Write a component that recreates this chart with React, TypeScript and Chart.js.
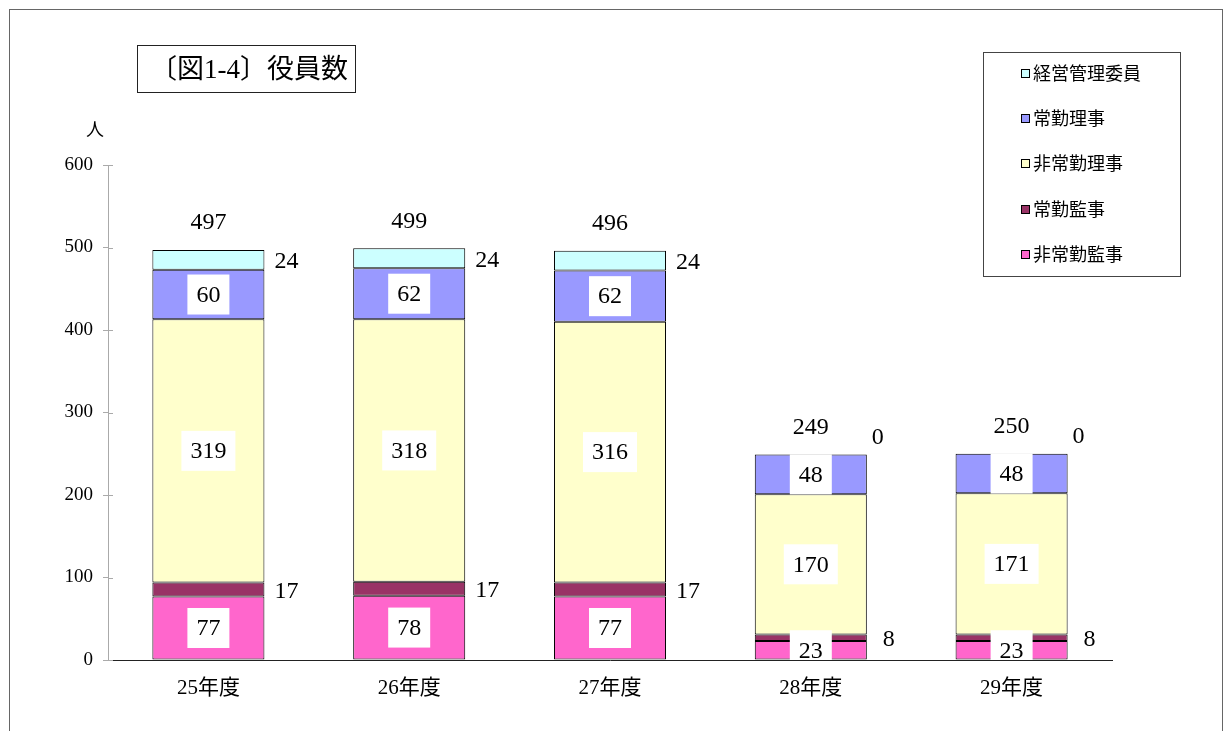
import React, { useEffect, useRef } from "react";
import { Chart, registerables } from "chart.js";
Chart.register(...registerables);

const categories = ["25年度", "26年度", "27年度", "28年度", "29年度"];
const seriesNames = ["非常勤監事", "常勤監事", "非常勤理事", "常勤理事", "経営管理委員"];
const hijoukinKanji = [77, 78, 77, 23, 23];
const joukinKanji = [17, 17, 17, 8, 8];
const hijoukinRiji = [319, 318, 316, 170, 171];
const joukinRiji = [60, 62, 62, 48, 48];
const keieiKanri = [24, 24, 24, 0, 0];
const totals = [497, 499, 496, 249, 250];
const yTicks = [0, 100, 200, 300, 400, 500, 600];
const seriesColors = ["#FF66CC", "#993366", "#FFFFCC", "#9999FF", "#CCFFFF"];
const titleText = "〔図1-4〕役員数";
const unitText = "人";

const SERIF = '"Liberation Serif", "Noto Sans CJK JP", serif';
const insideSeries = [0, 2, 3];

const decorPlugin = {
  id: "decor",
  beforeDraw(chart: any) {
    const ctx = chart.ctx;
    ctx.save();
    ctx.fillStyle = "#fff";
    ctx.fillRect(0, 0, chart.width, chart.height);
    ctx.strokeStyle = "#666";
    ctx.lineWidth = 1;
    ctx.strokeRect(9.5, 9.5, 1213, 900);
    ctx.restore();
  },
  afterDraw(chart: any) {
    const ctx = chart.ctx;
    const yScale = chart.scales.y;
    const area = chart.chartArea;
    ctx.save();
    ctx.strokeStyle = "#aaa";
    ctx.lineWidth = 1;
    yTicks.forEach((t) => {
      const py = Math.round(yScale.getPixelForValue(t)) + 0.5;
      ctx.beginPath();
      ctx.moveTo(area.left, py);
      ctx.lineTo(area.left + 5, py);
      ctx.stroke();
    });
    ctx.strokeStyle = "#222";
    ctx.strokeRect(137.5, 45.5, 218, 47);
    ctx.fillStyle = "#000";
    ctx.font = `27px ${SERIF}`;
    ctx.textBaseline = "middle";
    ctx.textAlign = "left";
    ctx.fillText(titleText, 150, 71);
    ctx.font = `18px ${SERIF}`;
    ctx.textAlign = "center";
    ctx.fillText(unitText, 95, 131);
    ctx.strokeStyle = "#444";
    ctx.strokeRect(983.5, 52.5, 197, 224);
    const ys = [74, 119, 164, 210, 255];
    ctx.font = `18px ${SERIF}`;
    ctx.textAlign = "left";
    for (let k = 0; k < 5; k++) {
      const si = 4 - k;
      ctx.fillStyle = seriesColors[si];
      ctx.fillRect(1021.5, ys[k] - 4.5, 8, 8);
      ctx.strokeStyle = "#000";
      ctx.strokeRect(1021.5, ys[k] - 4.5, 8, 8);
      ctx.fillStyle = "#000";
      ctx.fillText(seriesNames[si], 1033, ys[k] + 1);
    }
    ctx.restore();
  },
  afterDatasetsDraw(chart: any) {
    const ctx = chart.ctx;
    const area = chart.chartArea;
    const yScale = chart.scales.y;
    ctx.save();
    ctx.font = `24px ${SERIF}`;
    ctx.textBaseline = "middle";
    chart.data.datasets.forEach((ds: any, di: number) => {
      const meta = chart.getDatasetMeta(di);
      meta.data.forEach((bar: any, i: number) => {
        const v = ds.data[i];
        const p = bar.getProps(["x", "y", "base", "width"], true);
        const cy = (p.y + p.base) / 2;
        const t = String(v);
        if (insideSeries.includes(di)) {
          const tw = ctx.measureText(t).width;
          ctx.save();
          ctx.beginPath();
          ctx.rect(area.left, area.top, area.right - area.left, area.bottom - area.top);
          ctx.clip();
          ctx.fillStyle = "#fff";
          ctx.fillRect(p.x - tw / 2 - 9, cy - 20, tw + 18, 40);
          ctx.fillStyle = "#000";
          ctx.textAlign = "center";
          ctx.fillText(t, p.x, cy + 1);
          ctx.restore();
        } else if (v === 0) {
          ctx.fillStyle = "#000";
          ctx.textAlign = "center";
          ctx.fillText(t, p.x + p.width / 2 + 11, p.y - 17);
        } else {
          ctx.fillStyle = "#000";
          ctx.textAlign = "center";
          ctx.fillText(t, p.x + p.width / 2 + 22, cy + 2);
        }
      });
    });
    const meta0 = chart.getDatasetMeta(0);
    ctx.fillStyle = "#000";
    ctx.textAlign = "center";
    totals.forEach((tot, i) => {
      const bx = meta0.data[i].x;
      ctx.fillText(String(tot), bx, yScale.getPixelForValue(tot) - 27);
    });
    ctx.restore();
  },
};

export default function App() {
  const ref = useRef<HTMLCanvasElement | null>(null);
  useEffect(() => {
    if (!ref.current) return;
    const seriesData = [hijoukinKanji, joukinKanji, hijoukinRiji, joukinRiji, keieiKanri];
    const chart = new Chart(ref.current, {
      type: "bar",
      data: {
        labels: categories,
        datasets: seriesData.map((d, i) => ({
          label: seriesNames[i],
          data: d,
          backgroundColor: seriesColors[i],
          borderColor: "#000",
          borderWidth: 1,
          borderSkipped: false,
          barPercentage: 0.558,
          categoryPercentage: 1,
        })),
      },
      options: {
        responsive: false,
        animation: false,
        events: [],
        layout: { padding: { top: 165, right: 112, left: 0, bottom: 0 } },
        plugins: {
          legend: { display: false },
          tooltip: { enabled: false },
          title: { display: false },
        },
        scales: {
          x: {
            stacked: true,
            grid: { display: false },
            border: { display: true, color: "#222", width: 1 },
            ticks: { color: "#000", font: { family: SERIF, size: 21 }, padding: 8 },
            afterFit: (s: any) => {
              s.height = 71;
            },
          },
          y: {
            stacked: true,
            min: 0,
            max: 600,
            afterBuildTicks: (s: any) => {
              s.ticks = yTicks.map((v) => ({ value: v, label: String(v) }));
            },
            grid: { display: true, drawOnChartArea: false, drawTicks: true, tickLength: 5, color: "#aaa" },
            border: { display: true, color: "#aaa", width: 1 },
            ticks: { color: "#000", font: { family: SERIF, size: 19 }, padding: 10 },
            afterFit: (s: any) => {
              s.width = 108;
            },
          },
        },
      },
      plugins: [decorPlugin],
    });
    return () => chart.destroy();
  }, []);
  return (
    <div style={{ position: "absolute", left: 0, top: 0, width: 1224, height: 731 }}>
      <canvas ref={ref} width={1224} height={731} style={{ display: "block" }} />
    </div>
  );
}
